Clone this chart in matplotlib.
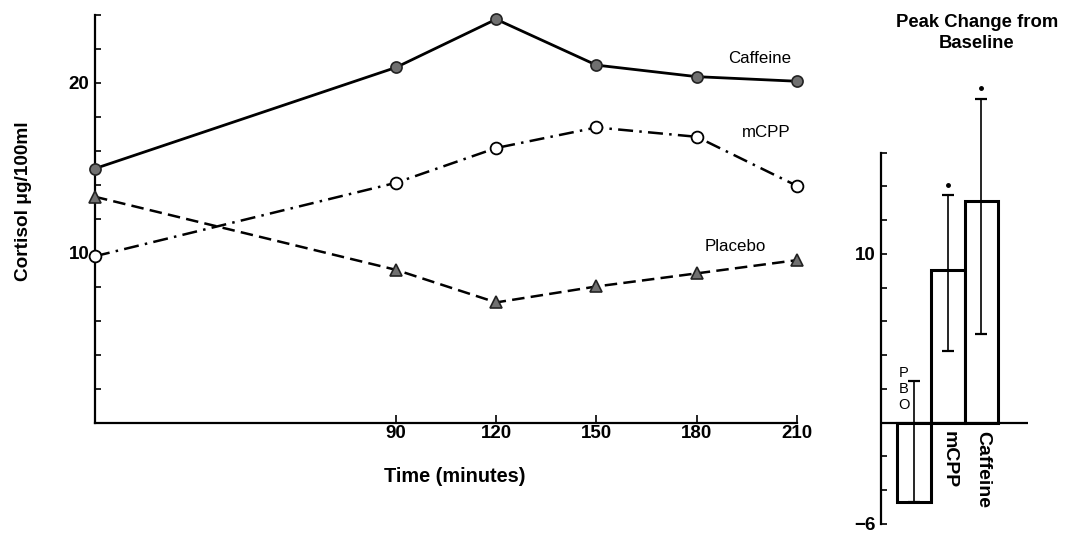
import matplotlib
matplotlib.use("Agg")
import matplotlib.pyplot as plt

plt.rcParams['font.family'] = ['Liberation Sans', 'DejaVu Sans']

# ---- time course data ----
times = [0, 90, 120, 150, 180, 210]
caffeine = [14.96, 20.91, 23.75, 21.05, 20.37, 20.1]
mcpp = [9.8, 14.12, 16.17, 17.38, 16.83, 13.94]
placebo = [13.3, 9.0, 7.08, 8.02, 8.79, 9.57]
xtick_vals = [90, 120, 150, 180, 210]
ytick_vals = list(range(0, 25, 2))
ytick_labels = ['10' if v == 10 else ('20' if v == 20 else '') for v in ytick_vals]

# ---- peak change data ----
groups = ['PBO', 'mCPP', 'Caffeine']
peak = [-4.7, 9.07, 13.15]
err_low = [0.0, 4.83, 7.93]
err_high = [7.16, 4.42, 6.05]
signif = [None, 14.1, 19.86]
r_ytick_vals = list(range(-6, 17, 2))
r_ytick_labels = ['10' if v == 10 else ('\u22126' if v == -6 else '') for v in r_ytick_vals]

W, H = 1072, 533
fig = plt.figure(figsize=(W / 100, H / 100), dpi=100)

# left panel
axL = fig.add_axes([95 / W, 1 - 422.7 / H, (797 - 95) / W, (422.7 - 15) / H])
axL.set_xlim(0, 210)
axL.set_ylim(0, 24)
for s in ['top', 'right']:
    axL.spines[s].set_visible(False)
for s in ['left', 'bottom']:
    axL.spines[s].set_linewidth(1.6)

axL.plot(times, caffeine, color='black', lw=2.0, marker='o', ms=8,
         mfc='#707070', mec='#222222', mew=1.2, clip_on=False, zorder=3)
axL.plot(times, mcpp, color='black', lw=1.8, ls=(0, (6, 2.5, 1, 2.5)),
         marker='o', ms=8.5, mfc='white', mec='black', mew=1.3, clip_on=False, zorder=3)
axL.plot(times, placebo, color='black', lw=1.8, ls=(0, (5, 2.5)), marker='^', ms=8,
         mfc='#707070', mec='#222222', mew=1.2, clip_on=False, zorder=3)

axL.text(198.9, 21.44, 'Caffeine', fontsize=12.2, ha='center', va='center')
axL.text(200.7, 17.1, 'mCPP', fontsize=12.2, ha='center', va='center')
axL.text(191.4, 10.37, 'Placebo', fontsize=12.2, ha='center', va='center')

axL.set_xticks(xtick_vals)
axL.set_xticklabels([str(v) for v in xtick_vals], fontsize=13.5, fontweight='bold')
axL.tick_params(axis='x', direction='in', length=6, width=1.2, pad=2)
axL.set_yticks(ytick_vals)
axL.set_yticklabels(ytick_labels, fontsize=13.5, fontweight='bold')
axL.tick_params(axis='y', direction='in', length=4, width=1.2, pad=4)

fig.text(24 / W, 1 - 201 / H, 'Cortisol \u03bcg/100ml', rotation=90, fontsize=13.7,
         fontweight='bold', ha='center', va='center')
fig.text(455 / W, 1 - 477 / H, 'Time (minutes)', fontsize=14.3, fontweight='bold',
         ha='center', va='center')

# right panel
axR = fig.add_axes([880.7 / W, 1 - 523.7 / H, (1028.3 - 880.7) / W, (523.7 - 152.7) / H])
axR.set_xlim(0, 4.4)
axR.set_ylim(-6, 16)
for s in ['top', 'right', 'bottom']:
    axR.spines[s].set_visible(False)
axR.spines['left'].set_linewidth(1.6)
axR.axhline(0, color='black', lw=1.6, zorder=4)

xpos = [1, 2, 3]
axR.bar(xpos, peak, width=1.0, color='white', edgecolor='black', linewidth=2.2, zorder=2)
eb = axR.errorbar(xpos, peak, yerr=[err_low, err_high], fmt='none', ecolor='black',
                  elinewidth=1.2, capsize=4, capthick=1.6, zorder=3)
for artist in eb.get_children():
    artist.set_clip_on(False)
for x, s in zip(xpos, signif):
    if s is not None:
        axR.plot([x], [s], marker='o', ms=2.5, color='black', zorder=3, clip_on=False)

axR.text(0.53, 2.0, 'P\nB\nO', fontsize=10.5, ha='left', va='center', linespacing=1.2)
axR.text(2.05, -0.5, 'mCPP', rotation=-90, fontsize=14, fontweight='bold',
         ha='center', va='top')
axR.text(3.05, -0.5, 'Caffeine', rotation=-90, fontsize=14, fontweight='bold',
         ha='center', va='top')

axR.set_xticks([])
axR.set_yticks(r_ytick_vals)
axR.set_yticklabels(r_ytick_labels, fontsize=13.5, fontweight='bold')
axR.tick_params(axis='y', direction='in', length=4, width=1.2, pad=4)

fig.text(977 / W, 1 - 33 / H, 'Peak Change from\nBaseline', fontsize=13.3,
         fontweight='bold', ha='center', va='center', linespacing=1.3)

fig.savefig('out.png', dpi=100)
